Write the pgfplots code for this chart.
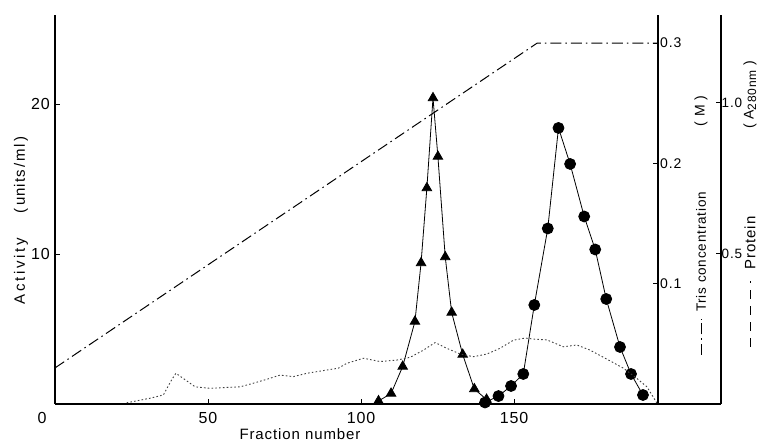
\documentclass[border=0pt]{standalone}
\usepackage{pgfplots}
\pgfplotsset{compat=1.18}
\usepackage{fontspec}
\setmainfont{Liberation Sans}[LetterSpace=6]
\newfontfamily\widefont{Liberation Sans}[LetterSpace=18]

\pgfplotsset{
  /pgf/number format/assume math mode=true,
  every axis/.append style={
    scale only axis, height=389pt,
    xmin=0, ymin=0,
    axis line style={line width=1.1pt, black},
    tick style={line width=0.9pt, black},
    major tick length=5pt, tick align=inside,
  },
}
\tikzset{trisline/.style={line width=1pt, dash pattern=on 11pt off 4pt on 1.5pt off 4pt}}

\begin{document}
\fontsize{15}{18}\selectfont
\begin{tikzpicture}
\useasboundingbox (0,0) rectangle (767pt,443pt);

% activity (left axis) and fraction number
\begin{axis}[at={(55pt,39pt)}, anchor=south west, width=666pt,
  xmax=217.6, ymax=25.93, axis lines*=left,
  xtick={50,100,150}, ytick={10,20},
  extra x ticks={0},
  extra x tick style={major tick length=0pt, xticklabel style={xshift=-13pt}},
  xticklabel style={yshift=-3pt, font=\fontsize{16}{18}\selectfont},
  yticklabel style={font=\fontsize{16}{18}\selectfont},
  clip=false]
  % triangles
  \addplot[black, line width=0.8pt, mark=triangle*, mark size=5.5pt] coordinates {
    (105.7,0.2)(109.8,0.7)(113.6,2.5)(117.6,5.5)(119.6,9.4)(121.5,14.4)
    (123.5,20.4)(125.1,16.5)(127.5,9.8)(129.6,6.1)(133.2,3.3)(137,1.0)(141,0.3)};
  % circles
  \addplot[black, line width=0.8pt, mark=*, mark size=5.5pt] coordinates {
    (140.5,0.1)(144.9,0.53)(149,1.2)(153,2.0)(156.6,6.6)(161,11.7)(164.5,18.4)
    (168.3,16.0)(172.9,12.5)(176.5,10.3)(180.1,7.0)(184.6,3.8)(188.2,2.0)(192.1,0.6)};
\end{axis}

% Tris concentration (inner right axis)
\begin{axis}[at={(55pt,39pt)}, anchor=south west, width=603pt,
  xmax=197, ymax=0.3234, axis x line=none, axis y line*=right,
  ytick={0.1,0.2,0.3},
  yticklabel style={xshift=-3pt, font=\fontsize{14}{16}\selectfont,
    /pgf/number format/.cd, fixed, fixed zerofill, precision=1},
  clip=false]
  \addplot[black, trisline] coordinates {(0,0.030)(157.5,0.300)(197,0.300)};
\end{axis}

% protein (outer right axis)
\begin{axis}[at={(55pt,39pt)}, anchor=south west, width=666pt,
  xmax=217.6, ymax=1.292, axis x line=none, axis y line*=right,
  ytick={0.5,1.0},
  yticklabel style={xshift=-4.5pt, font=\fontsize{13.5}{16}\selectfont,
    /pgf/number format/.cd, fixed, fixed zerofill, precision=1},
  clip=false]
  \addplot[black!75, line width=0.9pt, dash pattern=on 1.6pt off 2.2pt] coordinates {
    (23.4,0.004)(31,0.019)(35.4,0.03)(38.1,0.08)(39.5,0.102)(41.9,0.085)(45.8,0.057)
    (50.7,0.052)(56.1,0.055)(60.5,0.057)(64.8,0.069)(69.2,0.082)(73.5,0.096)(77.9,0.091)
    (82.3,0.102)(87.7,0.111)(92.6,0.119)(95.3,0.135)(100.8,0.152)(106.2,0.141)(111.7,0.146)
    (116,0.155)(120.4,0.179)(124.2,0.204)(128,0.185)(132.4,0.166)(136.7,0.157)(141.1,0.166)
    (145.4,0.185)(149.8,0.212)(153.6,0.219)(156.9,0.215)(160.7,0.213)(166.1,0.19)(170.5,0.196)
    (174.8,0.179)(180.3,0.149)(185.7,0.119)(190.1,0.085)(193.4,0.057)(196.6,0.004)};
\end{axis}

% axis titles
\node[rotate=90, font=\widefont\fontsize{15}{18}\selectfont] at (21pt,172pt) {Activity};
\node[rotate=90, font=\fontsize{15}{18}\selectfont] at (21pt,268pt) {(\,units\,/\,ml\,)};
\node[font=\fontsize{15}{18}\selectfont] at (300pt,8.5pt) {Fraction number};
\node[rotate=90, font=\fontsize{13.5}{15}\selectfont] at (701pt,191pt) {Tris concentration};
\node[rotate=90, font=\fontsize{14}{16}\selectfont] at (701pt,332pt) {( M )};
\draw[black, trisline] (701pt,88pt) -- (701pt,124pt);
\node[rotate=90, font=\fontsize{15}{18}\selectfont] at (750pt,200pt) {Protein};
\node[rotate=90, font=\fontsize{14}{16}\selectfont] at (750pt,348pt)
  {( A\raisebox{-2.5pt}{\fontsize{12}{14}\selectfont 280nm} )};
\draw[black, line width=1pt, dash pattern=on 9pt off 7pt] (750pt,96pt) -- (750pt,162pt);
\end{tikzpicture}
\end{document}
